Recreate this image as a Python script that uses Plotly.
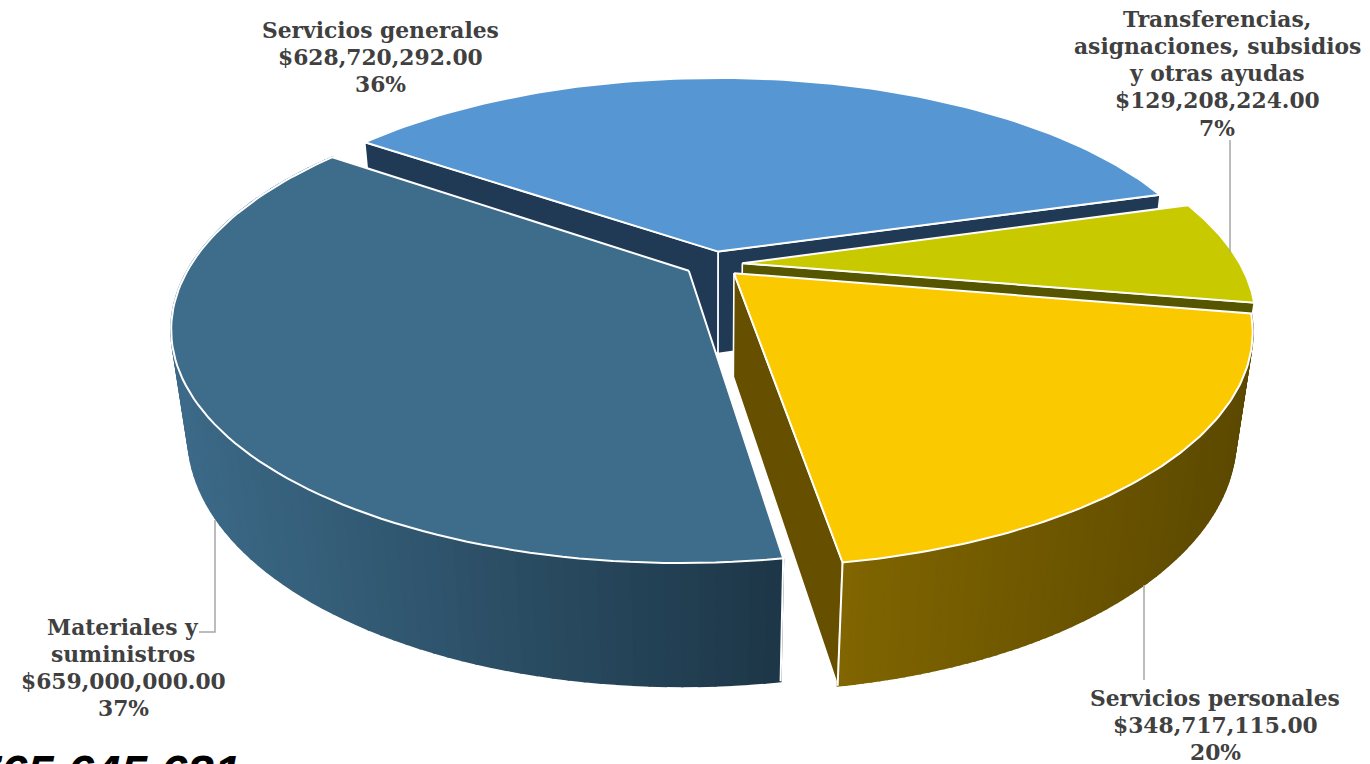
import math
import plotly.graph_objects as go

# ---- data ----
categories = ["Servicios generales", "Transferencias, asignaciones, subsidios y otras ayudas",
              "Servicios personales", "Materiales y suministros"]
values = [628720292.00, 129208224.00, 348717115.00, 659000000.00]
percent_labels = ["36%", "7%", "20%", "37%"]
label_lines = [
    ["Servicios generales"],
    ["Transferencias,", "asignaciones, subsidios", "y otras ayudas"],
    ["Servicios personales"],
    ["Materiales y", "suministros"],
]
total_label = "$1,765,645,631"

# ---- styles ----
top_colors = ["#5596d3", "#c9c900", "#fbc900", "#3e6c8b"]
side_colors = ["#203a56", "#565600", "#665000", "#203a56"]
rim_left = [None, None, "#806500", "#3c6a88"]
rim_right = [None, None, "#5c4900", "#1d3647"]
wall_start = [True, False, False, False]
wall_end = [True, True, True, False]
rim_edge_at_end = [False, False, True, False]
label_anchor = [(380, 30), (1217, 19), (1215, 698), (123, 627)]
leader_x = [[1230, 1230], [1144, 1144], [215, 215, 199]]
leader_y = [[140, 252], [585, 680], [520, 632, 632]]

# ---- perspective pie geometry ----
CX, CY = 713.5, 264.0
A, B, H = 497.8, 219.8, 106.0
P_Y, P_Z = 0.2353, 0.03
EXPLODE = 0.058
START = 144.6
LINE_H = 27.3


def project(x, y, t):
    s = 1.0 / (1.0 + P_Y * y + P_Z * t)
    return CX + A * x * s, CY - B * y * s + H * t * s


def hex2rgb(c):
    return [int(c[i:i + 2], 16) for i in (1, 3, 5)]


def mix(c1, c2, f):
    a, b = hex2rgb(c1), hex2rgb(c2)
    return "rgb(%d,%d,%d)" % tuple(round(a[i] + (b[i] - a[i]) * f) for i in range(3))


def poly(fig, xs, ys, fill, line="white", width=1.5):
    fig.add_trace(go.Scatter(x=xs + xs[:1], y=ys + ys[:1], mode="lines", fill="toself",
                             fillcolor=fill, line=dict(color=line, width=width),
                             hoverinfo="skip", showlegend=False))


fig = go.Figure()
total = sum(values)
angles = [START]
for v in values:
    angles.append(angles[-1] - 360.0 * v / total)

for i in range(len(values)):
    a0, a1 = angles[i], angles[i + 1]
    mid = math.radians((a0 + a1) / 2)
    ox, oy = EXPLODE * math.cos(mid), EXPLODE * math.sin(mid)
    n = 90
    arc = [math.radians(a0 + (a1 - a0) * k / n) for k in range(n + 1)]
    rim = [(ox + math.cos(t), oy + math.sin(t)) for t in arc]

    # radial walls that face the viewer
    walls = ([rim[0]] if wall_start[i] else []) + ([rim[-1]] if wall_end[i] else [])
    for (wx, wy) in walls:
        pts = [project(ox, oy, 0), project(wx, wy, 0), project(wx, wy, 1), project(ox, oy, 1)]
        poly(fig, [p[0] for p in pts], [p[1] for p in pts], side_colors[i], width=1.6)

    # outer wall with gradient
    if rim_left[i]:
        xs_scr = [project(*r, 0)[0] for r in rim]
        lo, hi = min(xs_scr), max(xs_scr)
        for k in range(n):
            q = [project(*rim[k], 0), project(*rim[k + 1], 0), project(*rim[k + 1], 1), project(*rim[k], 1)]
            xm = (q[0][0] + q[1][0]) / 2
            col = mix(rim_left[i], rim_right[i], (xm - lo) / (hi - lo))
            poly(fig, [p[0] for p in q], [p[1] for p in q], col, line=col, width=2)
        e = rim[-1] if rim_edge_at_end[i] else rim[0]
        edge = [project(*e, 0), project(*e, 1)]
        fig.add_trace(go.Scatter(x=[p[0] for p in edge], y=[p[1] for p in edge], mode="lines",
                                 line=dict(color="white", width=2), hoverinfo="skip", showlegend=False))

    # top face
    top = [project(ox, oy, 0)] + [project(x, y, 0) for x, y in rim]
    poly(fig, [p[0] for p in top], [p[1] for p in top], top_colors[i], width=2)

for lx, ly in zip(leader_x, leader_y):
    fig.add_trace(go.Scatter(x=lx, y=ly, mode="lines", line=dict(color="#a6a6a6", width=1.5),
                             hoverinfo="skip", showlegend=False))

annotations = []
for i in range(len(values)):
    lines = label_lines[i] + [f"${values[i]:,.2f}", percent_labels[i]]
    ax, ay = label_anchor[i]
    for j, text in enumerate(lines):
        annotations.append(dict(x=ax, y=ay + j * LINE_H, text=f"<b>{text}</b>", showarrow=False,
                                xref="x", yref="y", xanchor="center", yanchor="middle",
                                font=dict(family="DejaVu Serif", size=21.8, color="#404040")))
annotations.append(dict(x=243, y=764, yshift=-8, text=f"<b><i>{total_label}</i></b>", showarrow=False,
                        xref="x", yref="y", xanchor="right", yanchor="middle",
                        font=dict(family="Liberation Sans", size=48, color="#000000")))

fig.update_layout(
    width=1370, height=764, margin=dict(l=0, r=0, t=0, b=0),
    paper_bgcolor="white", plot_bgcolor="white", showlegend=False,
    xaxis=dict(range=[0, 1370], visible=False, fixedrange=True),
    yaxis=dict(range=[764, 0], visible=False, fixedrange=True),
    annotations=annotations,
)
fig.write_html("out.html", config=dict(displayModeBar=False),
               post_script="document.body.style.margin='0';document.body.style.overflow='hidden';")
